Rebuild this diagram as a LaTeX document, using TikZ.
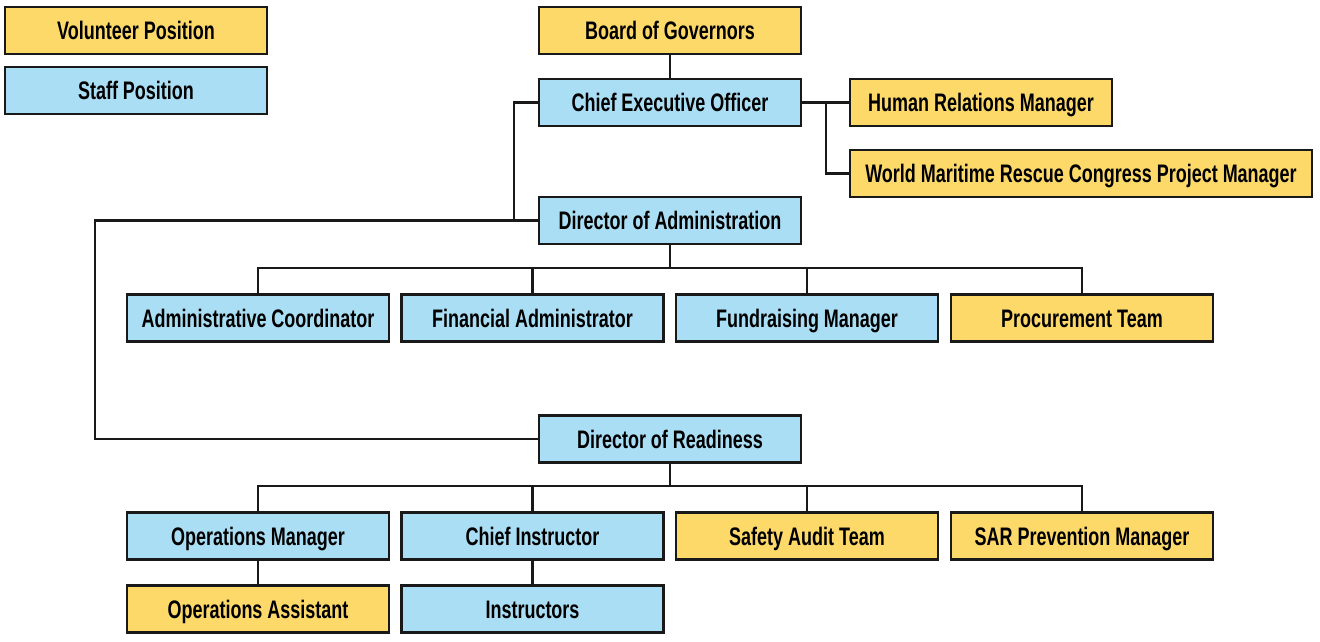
\documentclass[tikz,border=0pt]{standalone}
\usepackage{fontspec}
\setmainfont{Liberation Sans}[FakeStretch=0.71]
\definecolor{vol}{HTML}{FDD96A}
\definecolor{staff}{HTML}{A9DEF4}
\begin{document}
\begin{tikzpicture}[x=0.75pt,y=-0.75pt,
  box/.style={draw=black!90, line width=1.6pt, minimum width=196.5pt, minimum height=35.25pt,
    inner sep=0pt, text height=14.5pt, text depth=1pt, font=\fontsize{19}{20}\selectfont\bfseries},
  volbox/.style={box, fill=vol},
  staffbox/.style={box, fill=staff},
  conn/.style={draw=black!90, line width=1.6pt}]
\useasboundingbox (0,0) rectangle (1320,642);
\node[volbox] (vol) at (136,30.5) {Volunteer Position};
\node[staffbox] (staff) at (136,90.5) {Staff Position};
\node[volbox] (bog) at (670,30.5) {Board of Governors};
\node[staffbox] (ceo) at (670,102.5) {Chief Executive Officer};
\node[volbox] (hr) at (981,102.5) {Human Relations Manager};
\node[volbox, minimum width=346.5pt] (wmrc) at (1081,173.5) {World Maritime Rescue Congress Project Manager};
\node[staffbox] (doa) at (670,220.5) {Director of Administration};
\node[staffbox] (ac) at (258,318) {Administrative Coordinator};
\node[staffbox] (fa) at (532.5,318) {Financial Administrator};
\node[staffbox] (fm) at (807,318) {Fundraising Manager};
\node[volbox] (pt) at (1082,318) {Procurement Team};
\node[staffbox] (dor) at (670,439) {Director of Readiness};
\node[staffbox] (om) at (258,536) {Operations Manager};
\node[staffbox] (ci) at (532.5,536) {Chief Instructor};
\node[volbox] (sat) at (807,536) {Safety Audit Team};
\node[volbox] (sar) at (1082,536) {SAR Prevention Manager};
\node[volbox] (oa) at (258,609) {Operations Assistant};
\node[staffbox] (ins) at (532.5,609) {Instructors};
\coordinate (j1) at (514,220.5);
\coordinate (j2) at (95,220.5);
\coordinate (j3) at (826,102.5);
\coordinate (b1) at (670,268);
\coordinate (b2) at (670,486);
\draw[conn] (bog) -- (ceo);
\draw[conn] (ceo.west) -| (j1);
\draw[conn] (doa.west) -- (j2) |- (dor.west);
\draw[conn] (ceo.east) -- (hr.west);
\draw[conn] (j3) |- (wmrc.west);
\draw[conn] (doa.south) -- (b1);
\draw[conn] (ac.north) |- (b1) -| (pt.north);
\draw[conn] (fa.north) -- (fa.north |- b1);
\draw[conn] (fm.north) -- (fm.north |- b1);
\draw[conn] (dor.south) -- (b2);
\draw[conn] (om.north) |- (b2) -| (sar.north);
\draw[conn] (ci.north) -- (ci.north |- b2);
\draw[conn] (sat.north) -- (sat.north |- b2);
\draw[conn] (om) -- (oa);
\draw[conn] (ci) -- (ins);
\end{tikzpicture}
\end{document}
